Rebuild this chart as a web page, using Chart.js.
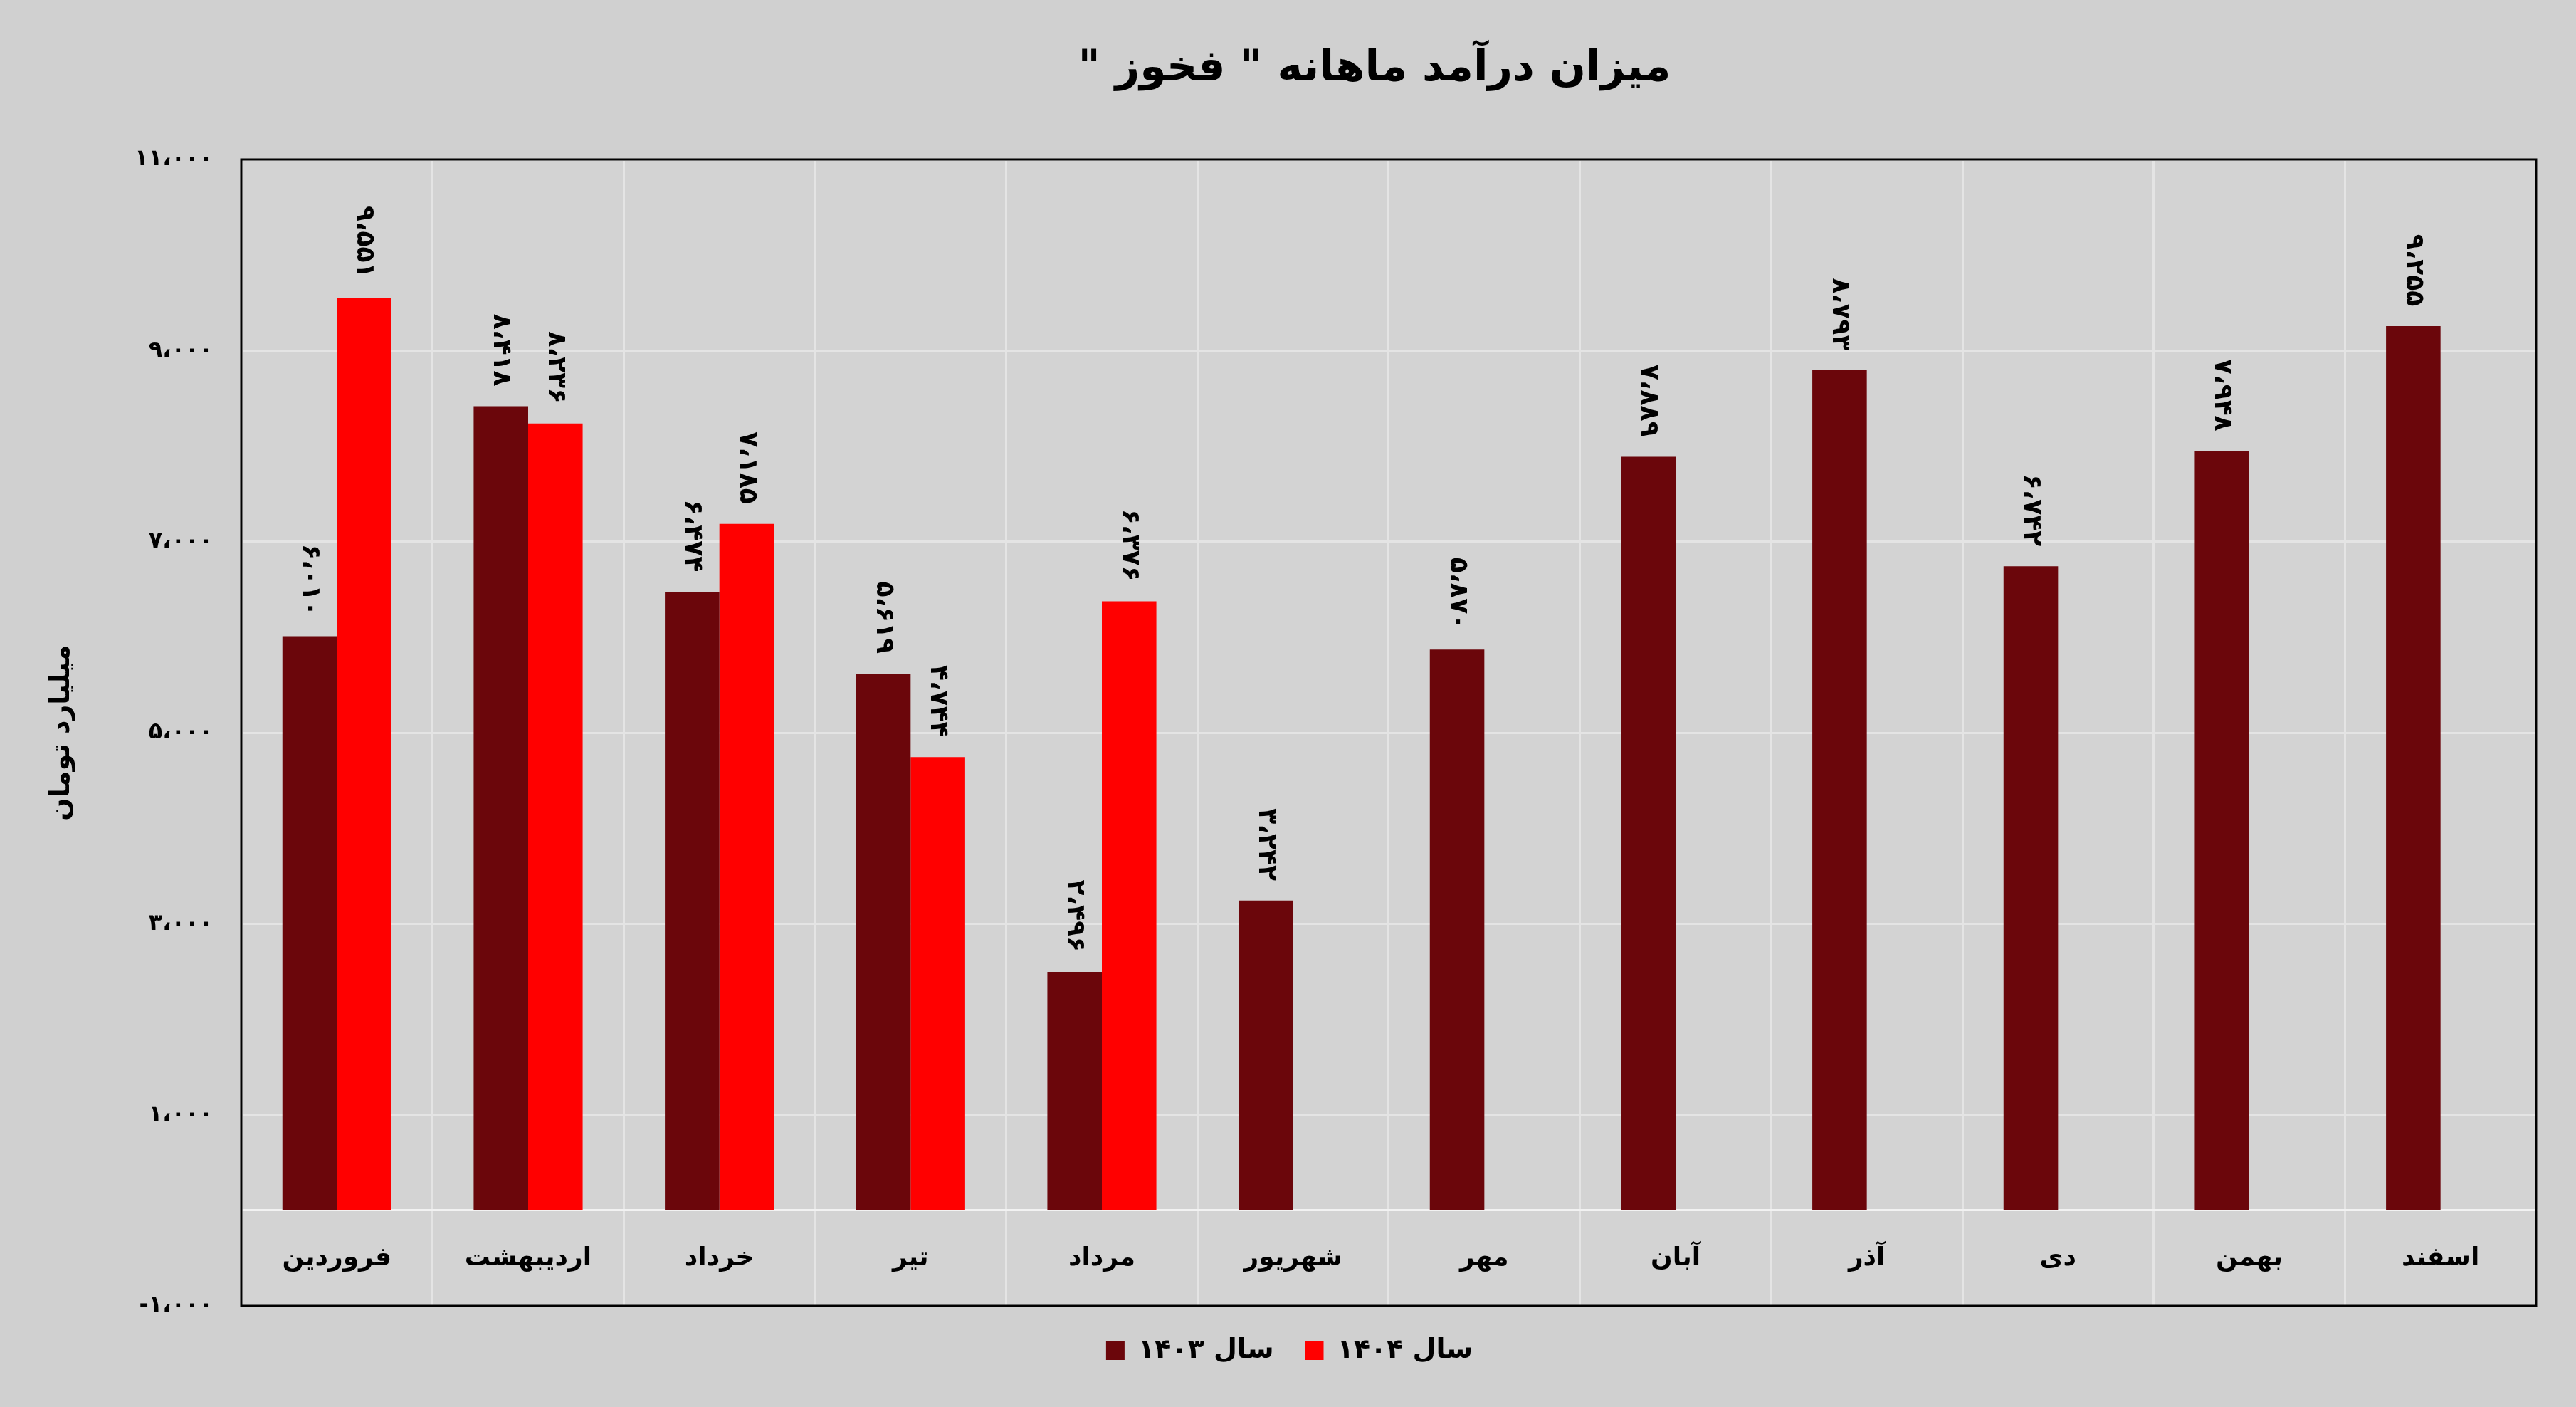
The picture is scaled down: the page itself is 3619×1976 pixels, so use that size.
<!DOCTYPE html>
<html><head><meta charset="utf-8">
<script src="https://cdn.jsdelivr.net/npm/chart.js@4"></script>
<style>html,body{margin:0;padding:0;background:#d0d0d0;}#w{width:3619px;height:1976px;}</style>
</head><body><div id="w"><canvas id="c"></canvas></div>
<script>
const months = ['فروردین','اردیبهشت','خرداد','تیر','مرداد','شهریور','مهر','آبان','آذر','دی','بهمن','اسفند'];
const y1403 = [6010,8418,6474,5619,2496,3242,5870,7889,8793,6742,7948,9255];
const y1404 = [9551,8236,7185,4744,6376,null,null,null,null,null,null,null];
const seriesNames = ['سال ۱۴۰۳','سال ۱۴۰۴'];
const yTicks = [-1000,1000,3000,5000,7000,9000,11000];
const FONT = '"DejaVu Sans", sans-serif';

function fa(n){
  const s = Math.abs(n).toString().replace(/\B(?=(\d{3})+(?!\d))/g,'،');
  const d = s.replace(/\d/g, c => '۰۱۲۳۴۵۶۷۸۹'[c]);
  return n < 0 ? d + '-' : d;
}

const extras = {
  id:'extras',
  beforeDraw(chart){
    const {ctx, chartArea:a} = chart;
    ctx.save();
    ctx.fillStyle = '#d3d3d3';
    ctx.fillRect(a.left, a.top, a.right-a.left, a.bottom-a.top);
    ctx.restore();
  },
  afterDatasetsDraw(chart){
    const ctx = chart.ctx;
    ctx.save();
    ctx.font = 'bold 36px ' + FONT;
    ctx.fillStyle = '#000';
    ctx.textAlign = 'right';
    ctx.textBaseline = 'middle';
    chart.data.datasets.forEach((ds,i)=>{
      chart.getDatasetMeta(i).data.forEach((bar,j)=>{
        const v = ds.data[j];
        if (v == null) return;
        ctx.save();
        ctx.translate(bar.x, bar.y - 28);
        ctx.rotate(Math.PI/2);
        ctx.fillText(fa(v), 0, 0);
        ctx.restore();
      });
    });
    ctx.restore();
  },
  afterDraw(chart){
    const {ctx, chartArea:a} = chart;
    ctx.save();
    ctx.strokeStyle = '#000'; ctx.lineWidth = 3;
    ctx.strokeRect(a.left, a.top, a.right-a.left, a.bottom-a.top);
    ctx.direction = 'rtl';
    ctx.textAlign = 'center'; ctx.textBaseline = 'middle';
    ctx.font = 'bold 60px ' + FONT;
    ctx.fillStyle = '#000';
    ctx.fillText('میزان درآمد ماهانه " فخوز "', (a.left + a.right)/2 - 20, 97);
    ctx.restore();
  }
};

new Chart(document.getElementById('c'), {
  type:'bar',
  data:{ labels: months, datasets:[
    {label: seriesNames[0], data: y1403, backgroundColor:'#6b060b', borderWidth:0},
    {label: seriesNames[1], data: y1404, backgroundColor:'#ff0000', borderWidth:0}
  ]},
  options:{
    responsive:true, maintainAspectRatio:false, animation:false,
    layout:{padding:{top:224, right:56, left:60, bottom:50}},
    datasets:{bar:{categoryPercentage:0.57, barPercentage:1}},
    plugins:{
      title:{display:false}, tooltip:{enabled:false},
      legend:{position:'bottom', textDirection:'rtl',
        labels:{font:{family:FONT, size:38, weight:'bold'}, color:'#000', boxWidth:26, boxHeight:26, padding:44}}
    },
    scales:{
      x:{ position:{y:0},
        grid:{color:'#e4e4e4', lineWidth:3, offset:true, drawTicks:false},
        border:{color:'#f2f2f2', width:3},
        ticks:{font:{family:FONT, size:36, weight:'bold'}, color:'#000', padding:46, maxRotation:0}
      },
      y:{ min:-1000, max:11000,
        afterBuildTicks(s){ s.ticks = yTicks.map(v=>({value:v})); },
        afterFit(s){ s.width = 279; },
        grid:{color:'#e4e4e4', lineWidth:3, drawTicks:false},
        border:{display:false},
        ticks:{font:{family:FONT, size:32, weight:'bold'}, color:'#000', padding:40, callback:v=>fa(v)},
        title:{display:true, text:'میلیارد تومان', font:{family:FONT, size:38, weight:'bold'}, color:'#000', padding:{bottom:50}}
      }
    }
  },
  plugins:[extras]
});
</script></body></html>
